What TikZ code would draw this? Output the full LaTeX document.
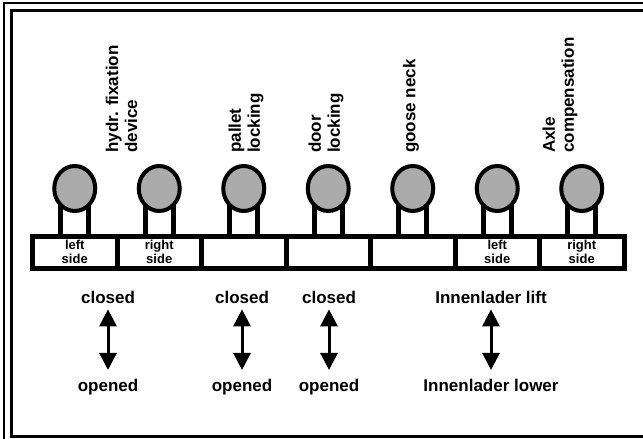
\documentclass[tikz,border=0pt]{standalone}
\usepackage{fontspec}
\setmainfont{Liberation Sans}
\usetikzlibrary{shapes.geometric,arrows.meta}
\begin{document}
\begin{tikzpicture}[x=1pt, y=-1pt]
    \tikzstyle{every node} = [align=center, font=\bfseries]
    \tikzstyle{cell} = [draw, line width=5pt, fill=white, minimum width=84.5pt, minimum height=32pt, inner sep=0pt, font=\fontsize{13}{14}\selectfont\bfseries]
    \tikzstyle{valve} = [ellipse, draw, line width=4pt, fill=black!33, minimum width=41pt, minimum height=45pt, inner sep=0pt]
    \tikzstyle{stem} = [line width=5pt]
    \tikzstyle{func} = [rotate=90, anchor=west, inner sep=0pt, align=left, font=\fontsize{17}{19}\selectfont\bfseries]
    \tikzstyle{state} = [anchor=base, inner sep=0pt, font=\fontsize{17}{20}\selectfont\bfseries]
    \tikzstyle{move} = [line width=3pt, {Triangle[width=17pt,length=17pt]}-{Triangle[width=17pt,length=17pt]}, shorten <=6pt, shorten >=8.5pt]

    \useasboundingbox (0,0) rectangle (643,439);
    % double frame
    \draw[line width=1.5pt] (4,3) rectangle (720,480);
    \draw[line width=3pt] (11.5,10) rectangle (710,436.5);

    % valve block
    \foreach \i/\t in {1/{left\\side}, 2/{right\\side}, 3/{}, 4/{}, 5/{}, 6/{left\\side}, 7/{right\\side}} {
        \node[cell] (b\i) at (32.5+84.5*\i-42.25, 252) {\t};
        \draw[stem] (32.5+84.5*\i-56.25, 188.5) -- (32.5+84.5*\i-56.25, 236);
        \draw[stem] (32.5+84.5*\i-28.25, 188.5) -- (32.5+84.5*\i-28.25, 236);
        \node[valve] (v\i) at (32.5+84.5*\i-42.25, 188.5) {};
    }

    % functions
    \node[func] (hydr) at (121.5,153) {hydr. fixation\\device};
    \node[func] (pallet) at (246,153) {pallet\\locking};
    \node[func] (door) at (326,153) {door\\locking};
    \node[func] (goose) at (411,153) {goose neck};
    \node[func] (axle) at (560,153) {Axle\\compensation};

    % switching positions
    \node[state] (c1) at (108,303) {closed};
    \node[state] (o1) at (108,391) {opened};
    \node[state] (c2) at (242,303) {closed};
    \node[state] (o2) at (242,391) {opened};
    \node[state] (c3) at (329,303) {closed};
    \node[state] (o3) at (329,391) {opened};
    \node[state] (lift) at (491,303) {Innenlader lift};
    \node[state] (lower) at (491,391) {Innenlader lower};

    \draw[move] (c1) -- (o1);
    \draw[move] (c2) -- (o2);
    \draw[move] (c3) -- (o3);
    \draw[move] (lift) -- (lower);
\end{tikzpicture}
\end{document}
